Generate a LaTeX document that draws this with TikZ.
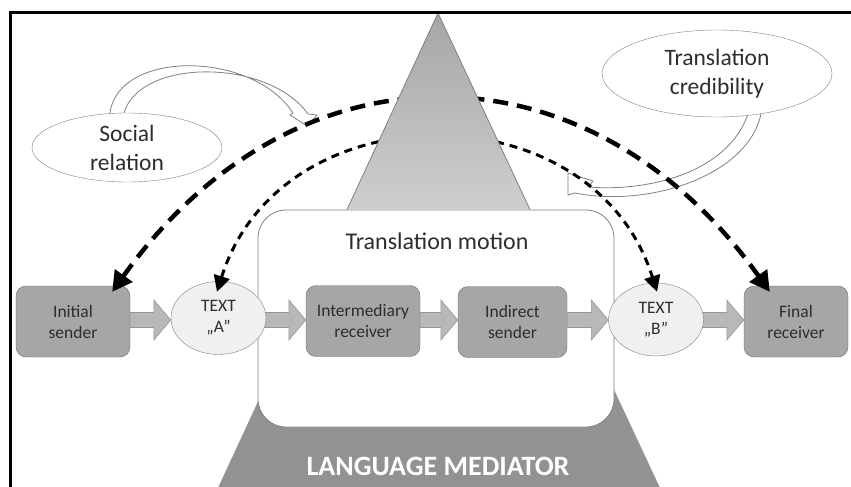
\documentclass[tikz,border=0pt]{standalone}
\usepackage{fontspec}
\setmainfont{Carlito}
\usetikzlibrary{arrows.meta,calc,shapes.geometric}

\definecolor{actorfill}{RGB}{166,166,166}
\definecolor{actorline}{RGB}{110,110,110}
\definecolor{flowfill}{RGB}{184,184,184}
\definecolor{flowline}{RGB}{150,150,150}
\definecolor{textfill}{RGB}{240,240,240}
\definecolor{thinline}{RGB}{128,128,128}
\definecolor{mediatorfill}{RGB}{146,146,146}
\definecolor{peaktop}{RGB}{166,166,166}
\definecolor{peakbottom}{RGB}{206,206,206}
\definecolor{ink}{RGB}{45,45,45}

\pgfdeclarelayer{base}
\pgfdeclarelayer{flow}
\pgfsetlayers{base,flow,main}

\newcommand\actorfont{\fontsize{17.5}{21}\selectfont}
\newcommand\bubblefont{\fontsize{23.5}{29}\selectfont}

% thick grey arrow between two neighbouring boxes of the row
\newcommand\flowarrow[2]{%
  \path[flowstyle] let \p1=(#1.east), \p2=(#2.west) in
    (\x1-6pt,-312.5pt) -- (\x2-17pt,-312.5pt) -- (\x2-17pt,-300pt) --
    (\x2,-320pt) -- (\x2-17pt,-340pt) -- (\x2-17pt,-327.5pt) --
    (\x1-6pt,-327.5pt) -- cycle;}

\begin{document}
\begin{tikzpicture}[x=1pt,y=-1pt,
  actor/.style={draw=actorline, fill=actorfill, rounded corners=10pt,
    minimum width=#1, minimum height=71pt, inner sep=0pt, align=center,
    font=\actorfont, text=ink},
  textblob/.style={ellipse, draw=thinline, fill=textfill, minimum width=95pt,
    minimum height=73pt, inner sep=0pt, align=center, font=\actorfont, text=ink},
  bubble/.style={ellipse, draw=thinline, fill=white, inner sep=0pt,
    align=center, font=\bubblefont, text=ink},
  flowstyle/.style={fill=flowfill, draw=flowline, line width=0.6pt},
  hollow/.style={fill=white, draw=thinline, line width=0.8pt, line join=round},
  heavylink/.style={line width=4.5pt, dash pattern=on 15pt off 9pt,
    {Triangle[length=20pt,width=21pt]}-{Triangle[length=20pt,width=21pt]}},
  thinlink/.style={line width=3pt, dash pattern=on 8pt off 6pt,
    {Triangle[length=16pt,width=16pt]}-{Triangle[length=16pt,width=16pt]}}
]
\useasboundingbox (0,0) rectangle (851,487);

\begin{pgfonlayer}{base}
  \fill[white] (0,0) rectangle (851,487);
  % lower part of the mediator pyramid
  \fill[mediatorfill] (305,300) -- (572,300) -- (661,490) -- (217,490) -- cycle;
  % translation motion frame
  \draw[thinline, fill=white, line width=0.8pt, rounded corners=28pt]
    (258,210) rectangle (614,427);
\end{pgfonlayer}

% curved hollow arrow of the social relation
\path[hollow] (110,119) -- (110,113) .. controls (118,50) and (252,50) .. (293,113)
  -- (290,115) -- (307,126) -- (317,115) -- (308,114)
  .. controls (268,58) and (140,58) .. (124,113) -- (124,119) -- cycle;
\node[bubble, minimum width=190pt, minimum height=69pt] (social) at (127,147.5)
  {Social\\relation};

% curved hollow arrow of the translation credibility
\path[hollow] (748,108) -- (748,114) .. controls (728,172) and (650,192) .. (588,187)
  -- (593,181) -- (568,173) -- (568,195) -- (575,193)
  .. controls (650,208) and (748,175) .. (761,114) -- (761,108) -- cycle;
\node[bubble, minimum width=230pt, minimum height=87pt] (cred) at (717,73.5)
  {Translation\\credibility};

\node[font=\fontsize{24}{28}\selectfont, text=ink] (motion) at (437,241)
  {Translation motion};

% row of participants and texts
\node[actor=114pt] (init) at (73,321.5) {Initial\\sender};
\node[textblob] (ta) at (218.5,318) {TEXT\\„A”};
\node[actor=114pt] (inter) at (363,321) {Intermediary\\receiver};
\node[actor=109pt] (indir) at (512.5,322) {Indirect\\sender};
\node[textblob] (tb) at (656,319.5) {TEXT\\„B”};
\node[actor=104pt] (final) at (796,321.5) {Final\\receiver};

\begin{pgfonlayer}{flow}
  \flowarrow{init}{ta}
  \flowarrow{ta}{inter}
  \flowarrow{inter}{indir}
  \flowarrow{indir}{tb}
  \flowarrow{tb}{final}
\end{pgfonlayer}

% dashed relations passing behind the pyramid top
\draw[heavylink] ($(init.north east)+(-18,6)$)
  .. controls (294,37) and (588,37) .. ($(final.north west)+(26,6)$);
\draw[thinlink] ($(ta.north)+(-1.5,10.5)$)
  .. controls (281,88) and (593,88) .. ($(tb.north)+(1,9)$);

% upper part of the mediator pyramid
\path[top color=peaktop, bottom color=peakbottom]
  (438,13) -- (530,209.6) -- (347,209.6) -- cycle;
\draw[thinline, line width=0.8pt] (347,209.6) -- (438,13) -- (530,209.6);

\node[font=\bfseries\fontsize{28}{32}\selectfont, text=white] (mediator)
  at (438,466) {LANGUAGE MEDIATOR};

% frame
\draw[line width=3pt] (10.5,487) -- (10.5,12.5) -- (851,12.5);
\end{tikzpicture}
\end{document}
